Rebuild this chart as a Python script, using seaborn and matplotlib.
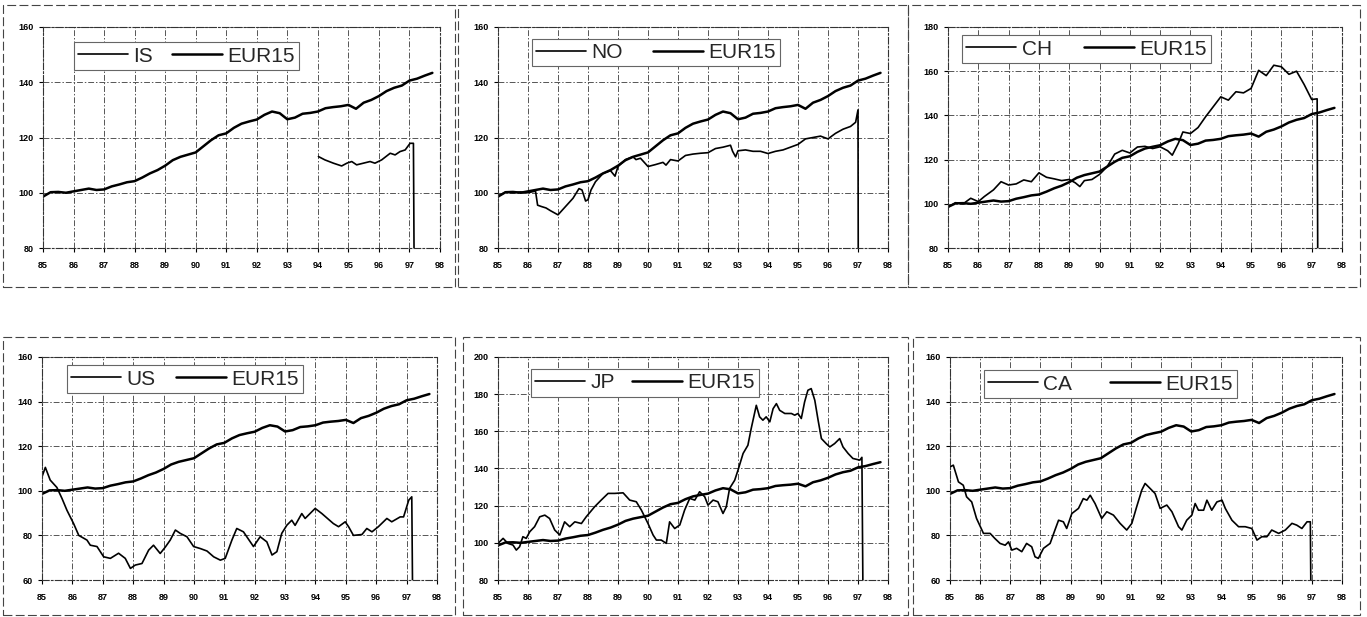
import numpy as np
import pandas as pd
import matplotlib
matplotlib.use('Agg')
import matplotlib.pyplot as plt
from matplotlib.patches import Rectangle
import seaborn as sns

sns.set_theme(style="white")
plt.rcParams['font.family'] = ['Liberation Sans', 'DejaVu Sans']

W, H = 1367, 617

# x axis: years 85..98
YEARS = list(range(85, 99))
YEAR_LABELS = [str(y) for y in YEARS]

# EUR15 reference index (quarterly readings)
EUR15 = [(85.0, 98.6), (85.25, 100.2), (85.5, 100.3), (85.75, 100.0), (86.0, 100.5),
         (86.25, 101.0), (86.5, 101.5), (86.75, 101.0), (87.0, 101.2), (87.25, 102.3),
         (87.5, 103.0), (87.75, 103.8), (88.0, 104.2), (88.25, 105.5), (88.5, 107.0),
         (88.75, 108.2), (89.0, 109.8), (89.25, 111.8), (89.5, 113.0), (89.75, 113.8),
         (90.0, 114.6), (90.25, 116.8), (90.5, 119.0), (90.75, 120.8), (91.0, 121.5),
         (91.25, 123.5), (91.5, 125.0), (91.75, 125.8), (92.0, 126.5), (92.25, 128.2),
         (92.5, 129.4), (92.75, 128.8), (93.0, 126.6), (93.25, 127.2), (93.5, 128.6),
         (93.75, 128.9), (94.0, 129.4), (94.25, 130.6), (94.5, 131.0), (94.75, 131.3),
         (95.0, 131.8), (95.25, 130.4), (95.5, 132.6), (95.75, 133.6), (96.0, 135.0),
         (96.25, 136.8), (96.5, 138.0), (96.75, 138.8), (97.0, 140.6), (97.25, 141.3),
         (97.5, 142.4), (97.75, 143.4)]

IS = [(94.02, 113.1), (94.23, 111.9), (94.51, 110.7), (94.78, 109.7), (94.95, 110.7),
      (95.11, 111.3), (95.27, 110.1), (95.49, 110.7), (95.71, 111.3), (95.87, 110.7),
      (96.09, 111.9), (96.37, 114.3), (96.53, 113.7), (96.69, 114.9), (96.86, 115.5),
      (97.02, 117.9), (97.13, 117.9), (97.19, 0)]

NO = [(85.0, 98.8), (85.25, 100.2), (85.5, 100.0), (85.75, 100.3), (86.0, 100.0),
      (86.25, 100.6), (86.32, 95.5), (86.45, 95.0), (86.6, 94.5), (86.75, 93.5),
      (87.0, 92.0), (87.25, 95.0), (87.5, 98.0), (87.7, 101.5), (87.8, 101.0),
      (87.92, 97.0), (88.0, 97.5), (88.1, 101.0), (88.25, 104.0), (88.5, 107.0),
      (88.75, 108.0), (88.9, 106.0), (89.0, 109.5), (89.1, 110.5), (89.25, 112.0),
      (89.5, 113.0), (89.6, 112.0), (89.75, 112.5), (90.0, 109.5), (90.25, 110.2),
      (90.5, 111.0), (90.6, 110.0), (90.75, 112.0), (91.0, 111.5), (91.25, 113.5),
      (91.5, 114.0), (91.75, 114.3), (92.0, 114.5), (92.25, 116.0), (92.5, 116.5),
      (92.75, 117.2), (92.82, 115.0), (92.92, 113.0), (93.0, 115.2), (93.25, 115.5),
      (93.5, 115.0), (93.75, 115.0), (94.0, 114.2), (94.25, 115.0), (94.5, 115.5),
      (94.75, 116.5), (95.0, 117.5), (95.25, 119.5), (95.5, 120.0), (95.75, 120.5),
      (96.0, 119.5), (96.25, 121.5), (96.5, 123.0), (96.75, 124.0), (96.92, 125.5),
      (97.0, 130.0), (97.02, 0)]

CH = [(85.0, 98.5), (85.25, 100.5), (85.5, 100.0), (85.75, 102.5), (86.0, 101.0),
      (86.2, 103.3), (86.5, 106.3), (86.75, 110.0), (87.0, 108.5), (87.25, 109.0),
      (87.5, 110.8), (87.75, 110.0), (88.0, 114.0), (88.25, 112.0), (88.5, 111.3),
      (88.75, 110.5), (89.0, 111.0), (89.2, 109.5), (89.35, 107.8), (89.5, 110.5),
      (89.75, 111.0), (90.0, 113.3), (90.25, 116.8), (90.5, 122.5), (90.75, 124.2),
      (91.0, 123.0), (91.25, 125.7), (91.5, 126.0), (91.75, 125.0), (92.0, 125.8),
      (92.25, 124.0), (92.4, 122.0), (92.6, 127.4), (92.75, 132.5), (93.0, 131.8),
      (93.25, 134.5), (93.5, 139.4), (93.75, 143.9), (94.0, 148.4), (94.25, 146.9),
      (94.5, 150.7), (94.75, 150.2), (95.0, 152.2), (95.25, 160.4), (95.5, 158.0),
      (95.75, 162.7), (96.0, 162.0), (96.25, 158.6), (96.5, 160.0), (96.75, 154.0),
      (97.0, 147.2), (97.18, 147.5), (97.22, 0)]

US = [(85.0, 106.3), (85.11, 110.5), (85.27, 104.8), (85.49, 101.5), (85.66, 96.5),
      (85.82, 91.3), (86.04, 85.3), (86.21, 80.0), (86.48, 77.9), (86.59, 75.6),
      (86.81, 75.0), (87.03, 70.4), (87.25, 69.7), (87.52, 72.0), (87.74, 69.7),
      (87.91, 65.2), (88.07, 66.7), (88.29, 67.4), (88.51, 73.4), (88.67, 75.6),
      (88.89, 71.9), (89.06, 74.8), (89.22, 77.9), (89.39, 82.4), (89.55, 80.9),
      (89.77, 79.4), (89.99, 75.0), (90.21, 74.1), (90.43, 73.0), (90.65, 70.4),
      (90.87, 68.9), (91.03, 69.7), (91.25, 77.9), (91.41, 83.1), (91.63, 81.6),
      (91.96, 75.0), (92.18, 79.4), (92.40, 77.1), (92.57, 71.2), (92.73, 72.7),
      (92.89, 80.9), (93.06, 84.6), (93.22, 86.8), (93.33, 84.5), (93.55, 89.8),
      (93.66, 87.6), (93.99, 92.1), (94.21, 89.8), (94.59, 85.3), (94.76, 83.9),
      (94.98, 86.1), (95.09, 83.9), (95.25, 80.0), (95.53, 80.4), (95.69, 83.1),
      (95.86, 81.6), (96.07, 83.9), (96.35, 87.6), (96.51, 86.1), (96.79, 88.3),
      (96.90, 88.3), (97.07, 95.8), (97.17, 97.3), (97.23, 0)]

JP = [(85.0, 99.7), (85.17, 102.4), (85.33, 99.7), (85.5, 98.8), (85.61, 96.1),
      (85.72, 97.9), (85.83, 103.3), (85.94, 102.4), (86.06, 106.0), (86.22, 108.7),
      (86.39, 114.0), (86.56, 114.9), (86.72, 113.1), (86.89, 106.9), (87.06, 104.2),
      (87.22, 111.3), (87.39, 108.7), (87.56, 111.3), (87.78, 110.4), (87.94, 114.0),
      (88.22, 119.4), (88.44, 123.0), (88.67, 126.6), (88.89, 126.6), (89.17, 126.9),
      (89.39, 123.0), (89.61, 122.1), (89.78, 117.6), (90.0, 110.4), (90.17, 104.2),
      (90.28, 101.5), (90.44, 101.5), (90.61, 99.7), (90.72, 111.3), (90.89, 107.7),
      (91.06, 109.6), (91.22, 117.6), (91.39, 123.9), (91.56, 123.0), (91.72, 127.5),
      (91.89, 124.8), (92.0, 120.3), (92.17, 123.0), (92.33, 122.1), (92.5, 115.8),
      (92.61, 119.4), (92.72, 129.3), (92.89, 133.7), (93.0, 139.1), (93.17, 148.1),
      (93.33, 152.5), (93.44, 161.5), (93.61, 174.0), (93.72, 167.8), (93.83, 166.0),
      (93.94, 167.8), (94.06, 165.1), (94.17, 172.2), (94.28, 174.9), (94.39, 171.3),
      (94.56, 169.6), (94.78, 169.6), (94.89, 168.7), (95.0, 169.6), (95.11, 166.9),
      (95.22, 175.8), (95.33, 182.1), (95.44, 183.0), (95.56, 176.7), (95.67, 166.0),
      (95.78, 156.1), (95.94, 153.4), (96.06, 151.6), (96.22, 153.4), (96.39, 156.1),
      (96.5, 151.6), (96.67, 148.1), (96.83, 145.4), (97.06, 144.5), (97.13, 146.0),
      (97.2, 0)]

CA = [(85.0, 110.7), (85.11, 111.5), (85.28, 104.0), (85.44, 102.5), (85.55, 97.3),
      (85.72, 95.0), (85.88, 87.6), (86.11, 80.9), (86.33, 80.9), (86.49, 78.6),
      (86.66, 76.4), (86.83, 75.6), (86.94, 77.1), (87.05, 73.4), (87.21, 74.2),
      (87.38, 72.7), (87.54, 76.4), (87.71, 74.9), (87.82, 70.4), (87.93, 69.7),
      (88.10, 74.2), (88.32, 76.4), (88.48, 82.4), (88.60, 86.8), (88.76, 86.1),
      (88.87, 83.1), (89.04, 89.8), (89.26, 92.1), (89.42, 96.5), (89.54, 95.8),
      (89.65, 98.0), (89.81, 94.3), (90.03, 87.6), (90.20, 90.6), (90.42, 89.1),
      (90.64, 85.4), (90.86, 82.4), (91.03, 85.4), (91.19, 92.8), (91.36, 100.3),
      (91.47, 103.3), (91.64, 101.0), (91.80, 98.8), (91.97, 92.1), (92.19, 93.6),
      (92.36, 90.6), (92.58, 83.9), (92.69, 82.4), (92.85, 86.8), (93.02, 89.1),
      (93.13, 94.3), (93.24, 91.3), (93.41, 91.3), (93.52, 95.8), (93.68, 91.3),
      (93.85, 95.0), (94.02, 95.8), (94.13, 92.1), (94.35, 86.8), (94.57, 83.9),
      (94.79, 83.9), (95.01, 83.1), (95.18, 77.9), (95.34, 79.4), (95.51, 79.4),
      (95.67, 82.4), (95.90, 80.9), (96.12, 82.4), (96.34, 85.4), (96.50, 84.6),
      (96.67, 83.1), (96.84, 86.1), (96.95, 86.1), (97.0, 0)]

YT_A = [80, 100, 120, 140, 160]
YT_CH = [80, 100, 120, 140, 160, 180]
YT_B = [60, 80, 100, 120, 140, 160]
YT_JP = [80, 100, 120, 140, 160, 180, 200]

# name, series, yticks, axes box px (l, t, r, b), frame px, legend anchor, column spacing
panels = [
    ('IS', IS, YT_A, (43, 27, 440, 248), (3, 5, 455, 287), (0.078, 0.93), 0.9),
    ('NO', NO, YT_A, (498, 27, 888, 248), (458, 5, 908, 287), (0.087, 0.945), 1.45),
    ('CH', CH, YT_CH, (948, 27, 1342, 248), (908, 5, 1360, 287), (0.036, 0.962), 1.55),
    ('US', US, YT_B, (42, 357, 437, 580), (3, 337, 455, 615), (0.063, 0.962), 1.0),
    ('JP', JP, YT_JP, (498, 357, 888, 580), (463, 337, 908, 615), (0.085, 0.945), 0.8),
    ('CA', CA, YT_B, (950, 357, 1342, 580), (913, 337, 1360, 615), (0.087, 0.94), 1.8),
]

grid_ls = (0, (6, 2, 1.5, 2))

fig = plt.figure(figsize=(W / 100, H / 100), dpi=100)
eu = pd.DataFrame(EUR15, columns=['year', 'index'])

for name, series, yt, box, frame, anchor, colsp in panels:
    l, t, r, b = box
    ax = fig.add_axes([l / W, 1 - b / H, (r - l) / W, (b - t) / H])
    df = pd.DataFrame(series, columns=['year', 'index'])
    sns.lineplot(data=df, x='year', y='index', ax=ax, color='black', lw=1.2,
                 label=name, estimator=None, sort=False)
    sns.lineplot(data=eu, x='year', y='index', ax=ax, color='black', lw=1.8,
                 label='EUR15', estimator=None, sort=False)
    ax.set_xlim(85, 98)
    ax.set_ylim(yt[0], yt[-1])
    ax.set_xticks(YEARS)
    ax.set_xticklabels(YEAR_LABELS, fontweight='bold')
    ax.set_yticks(yt)
    ax.set_yticklabels([str(v) for v in yt], fontweight='bold')
    ax.set_xlabel('')
    ax.set_ylabel('')
    ax.grid(True, color='#555555', lw=0.7, ls=grid_ls)
    for s in ax.spines.values():
        s.set_linestyle(grid_ls)
        s.set_color('#333333')
        s.set_linewidth(0.8)
    ax.tick_params(labelsize=6.5, length=3, width=0.8, pad=4, colors='black',
                   direction='out', left=True, bottom=True)
    ax.tick_params(axis='x', pad=6)
    leg = ax.legend(loc='upper left', bbox_to_anchor=anchor, ncol=2, fontsize=15,
                    handlelength=2.4, handletextpad=0.25, columnspacing=colsp,
                    frameon=True, fancybox=False, borderpad=0.2, borderaxespad=0,
                    framealpha=1, edgecolor='#666666')
    leg.get_frame().set_linewidth(0.8)

    fl, ft, fr, fb = frame
    fig.add_artist(Rectangle((fl / W, 1 - fb / H), (fr - fl) / W, (fb - ft) / H,
                             transform=fig.transFigure, fill=False,
                             ls=(0, (8, 3)), lw=0.8, edgecolor='#444444'))

fig.savefig('out.png', dpi=100)
